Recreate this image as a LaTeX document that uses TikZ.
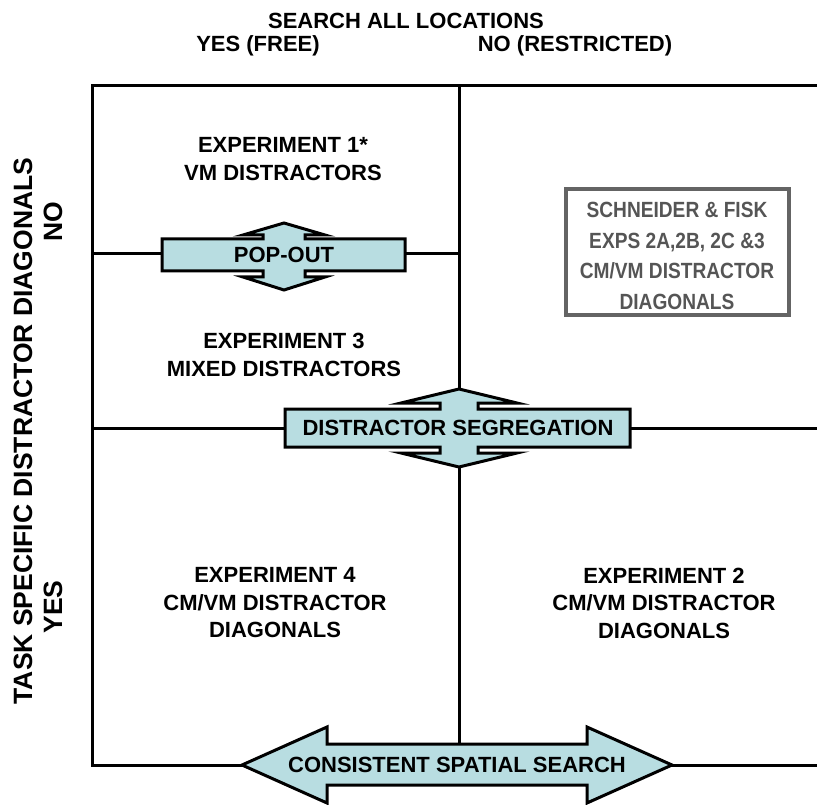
\documentclass[tikz,border=0pt]{standalone}
\usepackage{fontspec}
\setmainfont{Liberation Sans}
\newfontfamily\condsans[FakeStretch=0.87]{Liberation Sans}
\definecolor{arrowfill}{RGB}{184,221,225}
\definecolor{boxgray}{RGB}{100,100,100}
\definecolor{textgray}{RGB}{85,85,85}
\tikzset{
  frameline/.style={line width=3pt},
  bigarrow/.style={draw=black,fill=arrowfill,line width=3pt,line join=miter},
  lbl/.style={font=\fontsize{22}{27.5}\selectfont\bfseries,align=center,inner sep=0pt},
  biglbl/.style={font=\fontsize{26.5}{30}\selectfont\bfseries,align=center,inner sep=0pt},
  graylbl/.style={font=\condsans\fontsize{22}{30.5}\selectfont\bfseries,align=center,inner sep=0pt,text=textgray},
}
\begin{document}
\begin{tikzpicture}[x=1pt,y=-1pt]
\useasboundingbox (0,0) rectangle (817,805);
% frame coordinates
\coordinate (TL) at (92,86);
\coordinate (TR) at (817,86);
\coordinate (TM) at (459,86);
\coordinate (BL) at (92,765);
\coordinate (BR) at (817,765);
\coordinate (H1L) at (92,254);
\coordinate (H1M) at (459,254);
\coordinate (H2L) at (92,428);
\coordinate (H2R) at (817,428);
% arrow shapes
\draw[bigarrow] (162,239) -- (263,239) -- (263,235) -- (243,235) -- (284,223) -- (325,235) -- (305,235) -- (305,239) -- (405,239) -- (405,271) -- (305,271) -- (305,277) -- (325,277) -- (284,290) -- (243,277) -- (263,277) -- (263,271) -- (162,271) -- cycle;
\draw[bigarrow] (285,409) -- (440,409) -- (440,403) -- (401,403) -- (459,389) -- (517,403) -- (478,403) -- (478,409) -- (630,409) -- (630,447) -- (478,447) -- (478,453) -- (517,453) -- (459,467) -- (401,453) -- (440,453) -- (440,447) -- (285,447) -- cycle;
\draw[bigarrow] (242,765) -- (327,727) -- (327,744) -- (587,744) -- (587,727) -- (672,765) -- (587,803) -- (587,785) -- (327,785) -- (327,803) -- cycle;
\coordinate (POL) at (162,254);
\coordinate (POR) at (405,254);
\coordinate (DSL) at (285,428);
\coordinate (DSR) at (630,428);
\coordinate (DST) at (459,389);
\coordinate (DSB) at (459,467);
\coordinate (CSL) at (242,765);
\coordinate (CSR) at (672,765);
\coordinate (CST) at (459,744);
% frame lines
\draw[frameline,line cap=rect] (BL) -- (TL) -- (TR);
\draw[frameline] (TM) -- (DST);
\draw[frameline] (DSB) -- (CST);
\draw[frameline] (H1L) -- (POL);
\draw[frameline] (POR) -- (H1M);
\draw[frameline] (H2L) -- (DSL);
\draw[frameline] (DSR) -- (H2R);
\draw[frameline] (BL) -- (CSL);
\draw[frameline] (CSR) -- (BR);
% arrow labels
\node[lbl] (popout) at (284,255) {POP-OUT};
\node[lbl] (seg) at (458,428) {DISTRACTOR SEGREGATION};
\node[lbl] (css) at (457,765) {CONSISTENT SPATIAL SEARCH};
% headers
\node[lbl] (search) at (406,21) {SEARCH ALL LOCATIONS};
\node[lbl] (free) at (258,46) {YES (FREE)};
\node[lbl] (restr) at (575,46) {NO (RESTRICTED)};
\node[biglbl,rotate=90] (task) at (23,431) {TASK SPECIFIC DISTRACTOR DIAGONALS};
\node[biglbl,rotate=90] (no) at (53,222) {NO};
\node[biglbl,rotate=90] (yes) at (53,607) {YES};
% cells
\node[lbl] (e1) at (283,159) {EXPERIMENT 1*\\VM DISTRACTORS};
\node[lbl] (e3) at (284,355) {EXPERIMENT 3\\MIXED DISTRACTORS};
\node[lbl] (e4) at (275,603) {EXPERIMENT 4\\CM/VM DISTRACTOR\\DIAGONALS};
\node[lbl] (e2) at (664,603) {EXPERIMENT 2\\CM/VM DISTRACTOR\\DIAGONALS};
% Schneider box
\draw[draw=boxgray,line width=4pt] (566,189) rectangle (789,315);
\node[graylbl] (sf) at (677,256) {SCHNEIDER \& FISK\\EXPS 2A,2B, 2C \&3\\CM/VM DISTRACTOR\\DIAGONALS};
\end{tikzpicture}
\end{document}
